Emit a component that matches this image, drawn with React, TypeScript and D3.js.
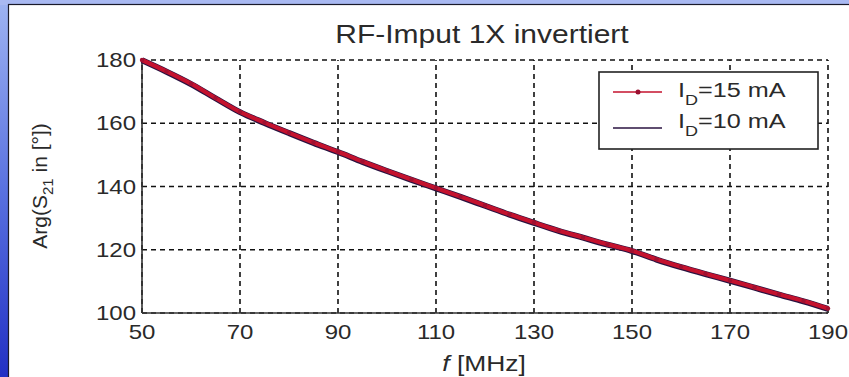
import React from "react";
import * as d3 from "d3";

const freqs = [50,55,60,65,70,75,80,85,90,95,100,105,110,115,120,125,130,135,140,145,150,155,160,165,170,175,180,185,190];
const phase15 = [180,176.4,172.5,168,163.6,160.2,157,153.9,151,147.9,145,142.2,139.5,136.8,134,131.2,128.6,126.1,123.9,121.7,119.7,117,114.6,112.4,110.3,108.1,105.9,103.8,101.4];
const phase10 = [179.9,176.3,172.4,167.9,163.5,160.1,156.9,153.8,150.9,147.8,144.9,142.1,139.4,136.7,133.9,131.1,128.5,126,123.8,121.6,119.6,116.9,114.5,112.3,110.2,108,105.8,103.7,101.3];
const xTicks = [50,70,90,110,130,150,170,190];
const yTicks = [100,120,140,160,180];
const title = "RF-Imput 1X invertiert";
const legendLabels = ["15 mA","10 mA"];

const W = 849, H = 377;
const PL = 142, PR = 828, PT = 60, PB = 313;
const SX = 1.2;
const FONT = "Liberation Sans, Arial, sans-serif";

export default function App() {
  const x = d3.scaleLinear().domain([50,190]).range([PL,PR]);
  const y = d3.scaleLinear().domain([100,180]).range([PB,PT]);
  const line = d3.line<number>().x((_, i) => x(freqs[i])).y(d => y(d)).curve(d3.curveMonotoneX);
  const red = "#c4122e";
  const navy = "#2a1240";
  const txt = "#2a2a2a";
  return (
    <svg width={W} height={H} style={{position:"absolute",left:0,top:0}} fontFamily={FONT}>
      <defs>
        <linearGradient id="lb" x1="0" y1="0" x2="0" y2="1">
          <stop offset="0" stopColor="#9fb4f2"/>
          <stop offset="0.5" stopColor="#5a72e0"/>
          <stop offset="1" stopColor="#2230c4"/>
        </linearGradient>
      </defs>
      <rect x={0} y={0} width={W} height={H} fill="url(#lb)"/>
      <rect x={0} y={0} width={W} height={5} fill="#a9b9f2"/>
      <rect x={8.5} y={4.5} width={W} height={H} fill="#ffffff" stroke="#1a1a2a" strokeWidth={1.2}/>
      {/* grid */}
      {xTicks.map(t => (
        <line key={"gx"+t} x1={x(t)} x2={x(t)} y1={PB} y2={PT} stroke="#111" strokeWidth={1.6} strokeDasharray="5,4"/>
      ))}
      {yTicks.map(t => (
        <line key={"gy"+t} x1={PL} x2={PR} y1={y(t)} y2={y(t)} stroke="#111" strokeWidth={1.6} strokeDasharray="5,4"/>
      ))}
      {/* axes */}
      <line x1={PL} x2={PL} y1={PT} y2={PB} stroke="#333" strokeWidth={1.6}/>
      <line x1={PL} x2={PR} y1={PB} y2={PB} stroke="#333" strokeWidth={1.6}/>
      {yTicks.map(t => (
        <g key={"ty"+t} transform={`translate(${PL-6},${y(t)+7}) scale(${SX},1)`}>
          <text textAnchor="end" fontSize={20} fill={txt}>{t}</text>
        </g>
      ))}
      {xTicks.map(t => (
        <g key={"tx"+t} transform={`translate(${x(t)},${PB+26}) scale(${SX},1)`}>
          <text textAnchor="middle" fontSize={20} fill={txt}>{t}</text>
        </g>
      ))}
      {/* series */}
      <path d={line(phase10) || ""} fill="none" stroke={navy} strokeWidth={6}/>
      <path d={line(phase15) || ""} fill="none" stroke={red} strokeWidth={4.2}/>
      {phase15.map((v, i) => (
        <circle key={"m"+i} cx={x(freqs[i])} cy={y(v)} r={2.2} fill="#a01030"/>
      ))}
      {/* title */}
      <g transform={`translate(482,43) scale(${SX},1)`}>
        <text textAnchor="middle" fontSize={25} fill={txt}>{title}</text>
      </g>
      {/* x label */}
      <g transform={`translate(484,371) scale(${SX},1)`}>
        <text textAnchor="middle" fontSize={22} fill={txt}><tspan fontStyle="italic">f</tspan> [MHz]</text>
      </g>
      {/* y label */}
      <g transform={`translate(47,186) rotate(-90)`}>
        <text textAnchor="middle" fontSize={21} fill={txt}>Arg(S<tspan fontSize={15} dy={6}>21</tspan><tspan dy={-6}> in [°])</tspan></text>
      </g>
      {/* legend */}
      <rect x={599} y={72} width={219} height={77} fill="#fff" stroke="#222" strokeWidth={1.6}/>
      <line x1={613} x2={662} y1={92} y2={92} stroke={red} strokeWidth={1.5}/>
      <circle cx={638} cy={92} r={2.5} fill="#9a0f30"/>
      <line x1={613} x2={662} y1={128} y2={128} stroke={navy} strokeWidth={1.5}/>
      {legendLabels.map((l, i) => (
        <g key={"lg"+i} transform={`translate(678,${97 + i*31}) scale(${SX},1)`}>
          <text fontSize={21} fill={txt}>I<tspan fontSize={15} dy={8}>D</tspan><tspan dy={-8}>={l}</tspan></text>
        </g>
      ))}
    </svg>
  );
}
